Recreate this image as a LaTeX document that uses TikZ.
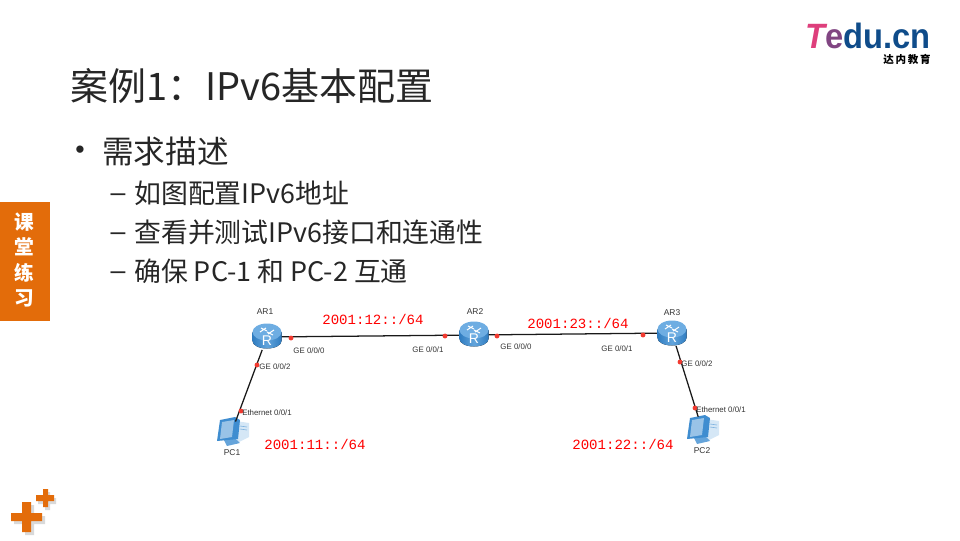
\documentclass[tikz,border=0pt]{standalone}
\usepackage{fontspec}
\setmainfont{Noto Sans CJK SC}
\newfontfamily\labelfont{Liberation Sans}
\newfontfamily\netfont{Liberation Mono}
\newfontfamily\logofont{Liberation Sans}
\definecolor{tarenaorange}{HTML}{E36C0A}
\definecolor{logoblue}{HTML}{0F4C8A}
\definecolor{logopink}{HTML}{DE3F7C}
\definecolor{routerdark}{HTML}{2F7CC0}
\definecolor{routerlight}{HTML}{79B6E8}
\definecolor{pcblue}{HTML}{3F8DD0}
\definecolor{pcpale}{HTML}{D5E7F6}
\definecolor{portred}{HTML}{F23A30}
\tikzset{
	pics/routericon/.style={code={
		\fill[left color=routerdark, right color=routerdark, middle color=routerlight!70!routerdark] (-14.5,-4) -- (-14.5,5) arc[start angle=180, end angle=0, x radius=14.5, y radius=7.5] -- (14.5,-4) -- cycle;
		\fill[routerlight!85!routerdark] (0,-4) ellipse[x radius=14.5, y radius=8.5];
		\draw[white, line width=0.7pt] (-7,-4) -- (-1,-8) (1,-2) -- (7,-6) (-6,-8) -- (0,-5) (0,-4) -- (6,-1);
		\node[text=white, font=\labelfont\fontsize{10}{10}\selectfont, inner sep=0pt] (letter) at (0,5) {R};
	}},
	pics/pcicon/.style={code={
		\fill[pcpale] (4,-10) -- (17,-8) -- (17,6) -- (5,12) -- cycle;
		\draw[pcblue!70, thin] (8,-5) -- (15,-4) (8,-2) -- (15,-1);
		\fill[pcblue!80] (-8,9) -- (3,7) -- (8,12) -- (-5,15) -- cycle;
		\fill[pcblue] (-12,-11) -- (3,-14) -- (8,-11) -- (6,8) -- (-15,10) -- cycle;
		\fill[pcpale!60!pcblue] (-10,-9) -- (2,-11) -- (0,6) -- (-12,8) -- cycle;
	}}
}
\begin{document}
\begin{tikzpicture}[x=0.025cm, y=-0.025cm, >=stealth,
	titletext/.style={anchor=west, inner sep=0pt, font=\fontsize{27}{27}\selectfont, text=black!85},
	leveltext/.style={anchor=west, inner sep=0pt, font=\fontsize{22.5}{22.5}\selectfont, text=black!85},
	subtext/.style={anchor=west, inner sep=0pt, font=\fontsize{19.1}{19.1}\selectfont, text=black!85},
	marktext/.style={inner sep=0pt, font=\labelfont\fontsize{19}{19}\selectfont, text=black!85},
	sidetext/.style={inner sep=0pt, text=white, font=\bfseries\fontsize{14}{14}\selectfont},
	devbox/.style={inner sep=0pt, minimum width=20pt, minimum height=18pt},
	devname/.style={inner sep=0pt, font=\labelfont\fontsize{6}{6}\selectfont, text=black!80},
	portname/.style={inner sep=0pt, font=\labelfont\fontsize{5.6}{5.6}\selectfont, text=black!80},
	netname/.style={inner sep=0pt, font=\netfont\fontsize{10}{10}\selectfont, text=red},
	portdot/.style={circle, fill=portred, inner sep=0pt, minimum size=3.5pt},
	link/.style={line width=0.9pt, black!90}]
	\useasboundingbox (0,0) rectangle (960,540);

	% 标题与正文
	\node[titletext] (title) at (70,86) {案例1：IPv6基本配置};
	\node[marktext] (bullet) at (80,152) {•};
	\node[leveltext] (demand) at (102,152) {需求描述};
	\node[marktext] (dashA) at (118,198) {–};
	\node[subtext] (itemA) at (134,193) {如图配置IPv6地址};
	\node[marktext] (dashB) at (118,237) {–};
	\node[subtext] (itemB) at (134,232) {查看并测试IPv6接口和连通性};
	\node[marktext] (dashC) at (118,276) {–};
	\node[subtext] (itemC) at (134,271) {确保 PC-1 和 PC-2 互通};

	% 左侧色块
	\fill[tarenaorange] (0,202) rectangle (50,321);
	\node[sidetext] (sideA) at (24,222) {课};
	\node[sidetext] (sideB) at (24,247) {堂};
	\node[sidetext] (sideC) at (24,273) {练};
	\node[sidetext] (sideD) at (24,298) {习};

	% 左下角加号
	\fill[black!15] (14,516) rectangle (45,524) (25,505) rectangle (34,535);
	\fill[black!15] (38,498) rectangle (56,504) (45,492) rectangle (50,510);
	\fill[tarenaorange] (11,513) rectangle (42,521) (22,502) rectangle (31,532);
	\fill[tarenaorange] (36,495) rectangle (54,501) (43,489) rectangle (48,507);

	% 右上角标志
	\node[anchor=west, inner sep=0pt, xscale=0.93, font=\logofont\bfseries\fontsize{25}{25}\selectfont, text=logoblue] (logo) at (805,36) {\textcolor{logopink}{\itshape T}\textcolor{logopink!55!logoblue}{e}du.cn};
	\node[anchor=east, inner sep=0pt, font=\bfseries\fontsize{7.5}{7.5}\selectfont] (logosub) at (931,59) {达\,内\,教\,育};

	% 设备位置
	\node[devbox] (ar1) at (267,337) {};
	\node[devbox] (ar2) at (474,335) {};
	\node[devbox] (ar3) at (672,333) {};
	\node[inner sep=0pt, minimum width=21pt, minimum height=13pt] (pc1) at (232,431) {};
	\node[inner sep=0pt, minimum width=21pt, minimum height=17pt] (pc2) at (702,429) {};

	% 电脑图标在连线之下
	\pic (pc1icon) at (232,431) {pcicon};
	\pic (pc2icon) at (702,429) {pcicon};

	% 连线
	\draw[link] (ar1) -- (ar2);
	\draw[link] (ar2) -- (ar3);
	\draw[link] (ar1) -- (pc1);
	\draw[link] (ar3) -- (pc2);

	% 路由器图标
	\pic (ar1icon) at (267,336) {routericon};
	\pic (ar2icon) at (474,334) {routericon};
	\pic (ar3icon) at (672,333) {routericon};

	% 端口红点
	\node[portdot] (dotA) at (291,338) {};
	\node[portdot] (dotB) at (445,336) {};
	\node[portdot] (dotC) at (497,336) {};
	\node[portdot] (dotD) at (643,335) {};
	\node[portdot] (dotE) at (257,365) {};
	\node[portdot] (dotF) at (241,411) {};
	\node[portdot] (dotG) at (680,362) {};
	\node[portdot] (dotH) at (695,408) {};

	% 设备名称
	\node[devname] (ar1name) at (265,312) {AR1};
	\node[devname] (ar2name) at (475,312) {AR2};
	\node[devname] (ar3name) at (672,313) {AR3};
	\node[devname] (pc1name) at (232,453) {PC1};
	\node[devname] (pc2name) at (702,451) {PC2};

	% 端口名称
	\node[portname] (portA) at (309,351) {GE 0/0/0};
	\node[portname] (portB) at (428,350) {GE 0/0/1};
	\node[portname] (portC) at (516,347) {GE 0/0/0};
	\node[portname] (portD) at (617,349) {GE 0/0/1};
	\node[portname] (portE) at (275,367) {GE 0/0/2};
	\node[portname] (portF) at (267,413) {Ethernet 0/0/1};
	\node[portname] (portG) at (697,364) {GE 0/0/2};
	\node[portname] (portH) at (721,410) {Ethernet 0/0/1};

	% 网段
	\node[netname] (netA) at (373,319) {2001:12::/64};
	\node[netname] (netB) at (578,323) {2001:23::/64};
	\node[netname] (netC) at (315,444) {2001:11::/64};
	\node[netname] (netD) at (623,444) {2001:22::/64};
\end{tikzpicture}
\end{document}
